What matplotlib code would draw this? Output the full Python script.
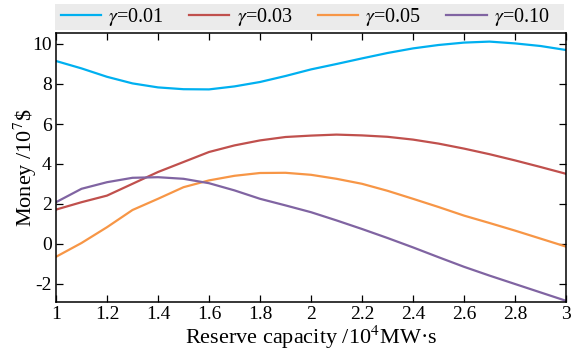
import matplotlib
matplotlib.use("Agg")
import matplotlib.pyplot as plt
from matplotlib.patches import Rectangle

plt.rcParams['font.family'] = ['Liberation Serif', 'DejaVu Serif']
plt.rcParams['mathtext.fontset'] = 'stix'
plt.rcParams['axes.unicode_minus'] = False

x = [1.0, 1.1, 1.2, 1.3, 1.4, 1.5, 1.6, 1.7, 1.8, 1.9, 2.0, 2.1, 2.2, 2.3, 2.4, 2.5, 2.6, 2.7, 2.8, 2.9, 3.0]
y001 = [9.15, 8.78, 8.36, 8.03, 7.83, 7.74, 7.73, 7.88, 8.10, 8.40, 8.73, 9.00, 9.28, 9.55, 9.78, 9.95, 10.07, 10.12, 10.03, 9.90, 9.70]
y003 = [1.72, 2.09, 2.42, 3.01, 3.60, 4.10, 4.60, 4.93, 5.18, 5.35, 5.42, 5.47, 5.43, 5.36, 5.22, 5.02, 4.77, 4.49, 4.18, 3.85, 3.51]
y005 = [-0.64, 0.05, 0.84, 1.70, 2.26, 2.84, 3.18, 3.41, 3.55, 3.56, 3.46, 3.26, 3.01, 2.66, 2.26, 1.85, 1.42, 1.05, 0.67, 0.27, -0.13]
y010 = [2.09, 2.76, 3.09, 3.31, 3.34, 3.26, 3.04, 2.68, 2.26, 1.93, 1.59, 1.18, 0.75, 0.30, -0.17, -0.66, -1.14, -1.58, -2.00, -2.42, -2.84]

series = [(y001, r'$\gamma$=0.01', '#00B0F0'),
          (y003, r'$\gamma$=0.03', '#C0504D'),
          (y005, r'$\gamma$=0.05', '#F79646'),
          (y010, r'$\gamma$=0.10', '#8064A2')]

xticks = [1, 1.2, 1.4, 1.6, 1.8, 2, 2.2, 2.4, 2.6, 2.8, 3]
xticklabels = ['1', '1.2', '1.4', '1.6', '1.8', '2', '2.2', '2.4', '2.6', '2.8', '3']
yticks = [-2, 0, 2, 4, 6, 8, 10]

W, H = 579, 356
fig = plt.figure(figsize=(W/100, H/100), dpi=100)
ax = fig.add_axes([56/W, 1-302/H, (566-56)/W, (302-33)/H])

handles = []
for ys, lab, col in series:
    h, = ax.plot(x, ys, color=col, lw=1.6, label=lab)
    handles.append(h)

ax.set_xlim(1, 3)
ax.set_ylim(-2.9, 10.55)
ax.set_xticks(xticks)
ax.set_xticklabels(xticklabels)
ax.set_yticks(yticks)
ax.tick_params(direction='in', top=True, right=True, labelsize=14, length=5, width=0.9, pad=3)
for s in ax.spines.values():
    s.set_linewidth(1.1)
ax.set_xlabel('Reserve capacity /10$^4$MW\u00b7s', fontsize=16, labelpad=0)
ax.set_ylabel('Money /10$^7$\\$', fontsize=16, labelpad=-5)

fig.patches.append(Rectangle((55/W, 1-30/H), (564-55)/W, 26/H, transform=fig.transFigure,
                             facecolor='#ebebeb', edgecolor='none', zorder=0))
leg = fig.legend(handles=handles, loc='center left', ncol=4,
                 bbox_to_anchor=(61/W, 1-17/H), frameon=False,
                 fontsize=14.5, handlelength=2.0, handletextpad=0.35, borderpad=0,
                 columnspacing=1.25, borderaxespad=0)

fig.savefig('out.png', dpi=100)
